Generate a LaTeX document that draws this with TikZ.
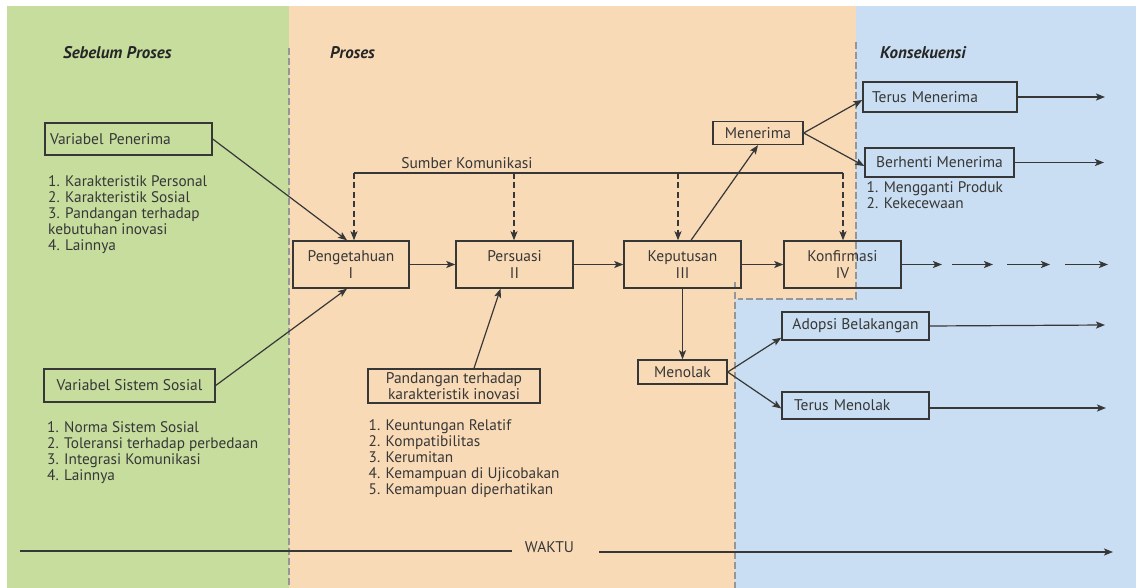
\documentclass[tikz,border=0pt]{standalone}
\usepackage{fontspec}
\setmainfont{PT Sans}
\usetikzlibrary{arrows.meta}
\definecolor{gbg}{RGB}{198,221,158}
\definecolor{obg}{RGB}{249,218,182}
\definecolor{bbg}{RGB}{201,222,242}
\definecolor{ink}{RGB}{55,55,55}
\definecolor{sepc}{RGB}{150,150,150}
\tikzset{
  box/.style={draw=ink, line width=1.4pt, text=ink, inner sep=0pt, align=center,
    font=\fontsize{15.5}{17}\selectfont},
  lst/.style={text=ink, inner sep=0pt, align=left, anchor=north west,
    font=\fontsize{15.3}{16.2}\selectfont},
  ttl/.style={text=black!85, inner sep=0pt, anchor=west,
    font=\fontsize{16.9}{19}\selectfont\bfseries\itshape},
  conn/.style={draw=ink, line width=1.2pt, -{Stealth[length=9pt,width=7pt,inset=2pt]}},
  plain/.style={draw=ink, line width=1.2pt},
  dconn/.style={conn, dash pattern=on 6pt off 3.5pt},
  sepline/.style={draw=sepc, line width=1.2pt, dash pattern=on 7pt off 3pt}
}
\begin{document}
\begin{tikzpicture}[x=1pt,y=-1pt]
\useasboundingbox (0,0) rectangle (1136,588);
\fill[white] (0,0) rectangle (1136,588);
% backgrounds
\fill[gbg] (7,6) rectangle (289,588);
\fill[obg] (289,6) rectangle (856,299);
\fill[obg] (289,299) rectangle (735,588);
\fill[bbg] (856,6) rectangle (1136,299);
\fill[bbg] (735,299) rectangle (1136,588);
% separators
\draw[sepline] (289,48) -- (289,588);
\draw[sepline] (856,42) -- (856,299) -- (738,299);
\draw[sepline] (735,282) -- (735,588);
% titles
\node[ttl] (t1) at (63,53) {Sebelum Proses};
\node[ttl] (t2) at (330,53) {Proses};
\node[ttl] (t3) at (880,53) {Konsekuensi};
% left boxes
\node[box, minimum width=167pt, minimum height=32pt, text width=157pt, align=left] (vp) at (128.5,139) {Variabel Penerima};
\node[lst] (l1) at (48,175) {1. Karakteristik Personal\\2. Karakteristik Sosial\\3. Pandangan terhadap\\kebutuhan inovasi\\4. Lainnya};
\node[box, minimum width=171pt, minimum height=33pt] (vss) at (129.5,385.5) {Variabel Sistem Sosial};
\node[lst] (l2) at (47,421) {1. Norma Sistem Sosial\\2. Toleransi terhadap perbedaan\\3. Integrasi Komunikasi\\4. Lainnya};
% process boxes
\node[box, minimum width=116pt, minimum height=47pt] (peng) at (351,264.5) {Pengetahuan\\I};
\node[box, minimum width=117pt, minimum height=47pt] (pers) at (514.5,264.5) {Persuasi\\II};
\node[box, minimum width=117pt, minimum height=47pt] (kep) at (682.5,264.5) {Keputusan\\III};
\node[box, minimum width=117pt, minimum height=47pt] (konf) at (842.5,264.5) {Konfirmasi\\IV};
\node[box, minimum width=172pt, minimum height=34pt, font=\fontsize{15.5}{15.5}\selectfont] (pk) at (454,386) {Pandangan terhadap\\karakteristik inovasi};
\node[lst] (l3) at (368.5,419) {1. Keuntungan Relatif\\2. Kompatibilitas\\3. Kerumitan\\4. Kemampuan di Ujicobakan\\5. Kemampuan diperhatikan};
\node[box, minimum width=90pt, minimum height=23pt] (men) at (758,133) {Menerima};
\node[box, minimum width=89pt, minimum height=24pt] (mol) at (682.5,372) {Menolak};
% consequence boxes
\node[box, minimum width=154pt, minimum height=30pt, text width=136pt, align=left] (tm) at (940,97) {Terus Menerima};
\node[box, minimum width=149pt, minimum height=29pt] (bm) at (939.5,162.5) {Berhenti Menerima};
\node[lst] (l4) at (866.5,181) {1. Mengganti Produk\\2. Kekecewaan};
\node[box, minimum width=147pt, minimum height=28pt] (ab) at (855.5,326) {Adopsi Belakangan};
\node[box, minimum width=147pt, minimum height=27pt, text width=123pt, align=left] (tmol) at (855.5,405.5) {Terus Menolak};
% sumber komunikasi
\node[text=ink, inner sep=0pt, font=\fontsize{15.5}{17}\selectfont] (sk) at (467,163) {Sumber Komunikasi};
\coordinate (s1) at (354,173);
\coordinate (s2) at (514,173);
\coordinate (s3) at (678,173);
\coordinate (s4) at (843,173);
\draw[plain] (s1) -- (s4);
\draw[dconn] (s1) -- (s1 |- peng.north);
\draw[dconn] (s2) -- (s2 |- pers.north);
\draw[dconn] (s3) -- (s3 |- kep.north);
\draw[dconn] (s4) -- (s4 |- konf.north);
% inputs
\draw[conn] (vp.east) -- ([xshift=-4pt]peng.north);
\draw[conn] (vss.east) -- ([xshift=-4pt]peng.south);
\draw[conn] ([xshift=20pt]pk.north) -- ([xshift=-14pt]pers.south);
% main chain
\draw[conn] (peng.east) -- (pers.west);
\draw[conn] (pers.east) -- (kep.west);
\draw[conn] (kep.east) -- (konf.west);
\draw[conn] ([xshift=8.5pt]kep.north) -- (men.south);
\draw[conn] (kep.south) -- (mol.north);
\draw[conn] (men.east) -- ([yshift=-3pt]tm.west);
\draw[conn] (men.east) -- ([yshift=-3.5pt]bm.west);
\draw[conn] (mol.east) -- ([yshift=3pt]ab.south west);
\draw[conn] (mol.east) -- ([yshift=-3pt]tmol.west);
% outputs
\coordinate (o1) at (1105,97);
\coordinate (o2) at (1104,162.5);
\coordinate (o3) at (1105,325);
\coordinate (o4) at (1106,408);
\draw[conn] (tm.east) -- (o1);
\draw[conn] (bm.east) -- (o2);
\draw[conn] (ab.east) -- (o3);
\draw[conn] (tmol.east |- o4) -- (o4);
% confirmation continuation
\coordinate (k1) at (942,264.5);
\coordinate (k2a) at (952,264.5);
\coordinate (k2) at (993,264.5);
\coordinate (k3a) at (1007,264.5);
\coordinate (k3) at (1050,264.5);
\coordinate (k4a) at (1065,264.5);
\coordinate (k4) at (1108,264.5);
\draw[conn] (konf.east) -- (k1);
\draw[conn] (k2a) -- (k2);
\draw[conn] (k3a) -- (k3);
\draw[conn] (k4a) -- (k4);
% time axis
\coordinate (w0) at (20,551);
\coordinate (w1) at (512,551);
\coordinate (w2) at (599,552);
\coordinate (w3) at (1113,552);
\node[text=ink, inner sep=0pt, font=\fontsize{15.5}{17}\selectfont] (waktu) at (549.5,547) {WAKTU};
\draw[plain] (w0) -- (w1);
\draw[conn] (w2) -- (w3);
\end{tikzpicture}
\end{document}
